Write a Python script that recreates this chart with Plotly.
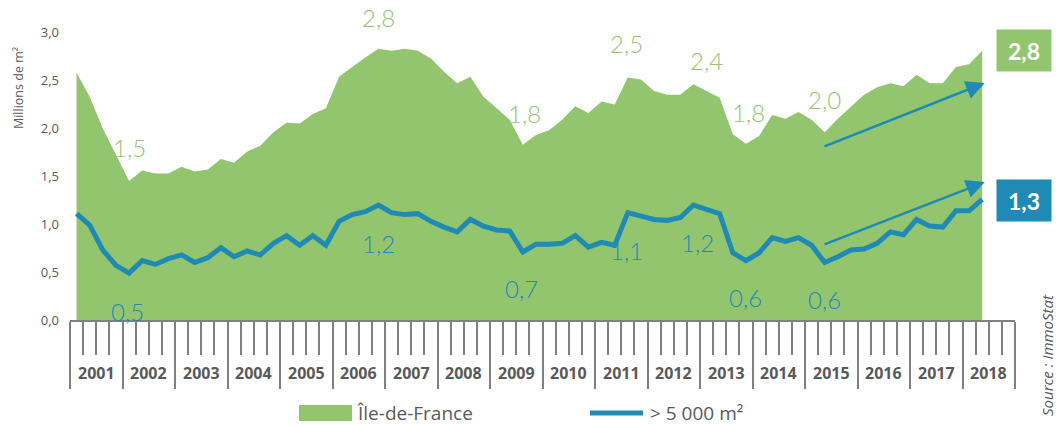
import plotly.graph_objects as go

# ---------------- data ----------------
years = [str(y) for y in range(2001, 2019)]
quarters_per_year = 4

# Ile-de-France take-up (millions m2), quarterly rolling, 2001 Q1 -> 2018 Q2
idf = [2.58, 2.33, 2.00, 1.72, 1.45, 1.56, 1.53, 1.53, 1.60, 1.55, 1.57, 1.68,
       1.64, 1.76, 1.82, 1.96, 2.06, 2.05, 2.15, 2.21, 2.54, 2.64, 2.74, 2.83,
       2.81, 2.83, 2.81, 2.73, 2.59, 2.47, 2.54, 2.33, 2.21, 2.09, 1.83, 1.93,
       1.98, 2.09, 2.23, 2.16, 2.28, 2.25, 2.53, 2.51, 2.39, 2.35, 2.35, 2.46,
       2.39, 2.32, 1.94, 1.84, 1.92, 2.14, 2.10, 2.17, 2.09, 1.96, 2.10, 2.23,
       2.35, 2.43, 2.47, 2.44, 2.56, 2.47, 2.47, 2.64, 2.67, 2.81]

# > 5 000 m2 transactions
big = [1.11, 0.99, 0.73, 0.57, 0.49, 0.62, 0.58, 0.64, 0.68, 0.60, 0.65, 0.755,
       0.66, 0.72, 0.68, 0.80, 0.88, 0.78, 0.88, 0.78, 1.03, 1.10, 1.13, 1.20,
       1.12, 1.10, 1.11, 1.03, 0.97, 0.92, 1.05, 0.98, 0.94, 0.93, 0.71, 0.79,
       0.79, 0.80, 0.88, 0.76, 0.81, 0.78, 1.12, 1.09, 1.05, 1.04, 1.07, 1.20,
       1.16, 1.11, 0.70, 0.62, 0.70, 0.86, 0.82, 0.86, 0.78, 0.60, 0.66, 0.73,
       0.74, 0.80, 0.92, 0.89, 1.05, 0.98, 0.97, 1.14, 1.14, 1.26]

y_ticks = [0.0, 0.5, 1.0, 1.5, 2.0, 2.5, 3.0]
y_ticktext = ["0,0", "0,5", "1,0", "1,5", "2,0", "2,5", "3,0"]

# value call-outs (text, x index, y)
idf_labels = [("1,5", 4.0, 1.80), ("2,8", 23.0, 3.16), ("1,8", 34.1, 2.16),
              ("2,5", 41.9, 2.89), ("2,4", 48.0, 2.71), ("1,8", 51.2, 2.17),
              ("2,0", 57.0, 2.30)]
big_labels = [("0,5", 3.9, 0.09), ("1,2", 23.0, 0.80), ("0,7", 33.9, 0.33),
              ("1,1", 41.9, 0.73), ("1,2", 47.3, 0.81), ("0,6", 51.0, 0.23),
              ("0,6", 57.0, 0.21)]
latest_idf = "2,8"
latest_big = "1,3"
series_names = ["Île-de-France", "> 5 000 m²"]

# ---------------- style ----------------
GREEN = "#93C56F"
BLUE = "#1F8AB4"
GREY = "#595959"
AXIS_GREY = "#808080"
LABEL_FONT = "Lato"
BASE_FONT = "Open Sans"

x_idx = list(range(len(idf)))
n_slots = len(years) * quarters_per_year

fig = go.Figure()
fig.add_trace(go.Scatter(x=x_idx, y=idf, mode="lines", fill="tozeroy",
                         fillcolor=GREEN, line=dict(width=0, color=GREEN),
                         name=series_names[0], hoverinfo="skip"))
fig.add_trace(go.Scatter(x=x_idx, y=big, mode="lines",
                         line=dict(width=5, color=BLUE),
                         name=series_names[1], hoverinfo="skip"))

major = [k - 0.5 for k in range(0, n_slots + 1, quarters_per_year)]
minor = [k - 0.5 for k in range(0, n_slots + 1) if k % quarters_per_year != 0]

fig.update_xaxes(range=[-0.5, n_slots - 0.5], showgrid=False, zeroline=False,
                 showline=True, linecolor=AXIS_GREY, linewidth=2,
                 tickmode="array", tickvals=major, ticks="outside", ticklen=67,
                 tickwidth=1.5, tickcolor=AXIS_GREY, showticklabels=False,
                 minor=dict(tickmode="array", tickvals=minor, ticks="outside",
                            ticklen=33, tickwidth=1.5, tickcolor=AXIS_GREY,
                            showgrid=False))
fig.update_yaxes(range=[0, 3.34], tickmode="array", tickvals=y_ticks,
                 ticktext=y_ticktext, showgrid=False, zeroline=False,
                 showline=False, ticks="", ticklabelstandoff=10,
                 tickfont=dict(family=BASE_FONT, size=13, color=GREY))

C = dict(xanchor="center", yanchor="middle")
ann = []
# year labels
for i, yr in enumerate(years):
    ann.append(dict(x=i * quarters_per_year + 1.5, y=-0.1656, xref="x", yref="paper",
                    text=f"<b>{yr}</b>", showarrow=False, **C,
                    font=dict(family=BASE_FONT, size=16, color=GREY)))
for t, x, y in idf_labels:
    ann.append(dict(x=x, y=y, xref="x", yref="y", text=t, showarrow=False, **C,
                    font=dict(family=LABEL_FONT, size=24, color=GREEN, weight=300)))
for t, x, y in big_labels:
    ann.append(dict(x=x, y=y, xref="x", yref="y", text=t, showarrow=False, **C,
                    font=dict(family=LABEL_FONT, size=24, color=BLUE, weight=300)))
# trend arrows
ann.append(dict(x=69.2, y=2.474, ax=56.87, ay=1.806, xref="x", yref="y",
                axref="x", ayref="y", text="", showarrow=True, arrowhead=2,
                arrowsize=1.5, arrowwidth=2.5, arrowcolor=BLUE, standoff=0))
ann.append(dict(x=69.2, y=1.44, ax=56.87, ay=0.783, xref="x", yref="y",
                axref="x", ayref="y", text="", showarrow=True, arrowhead=2,
                arrowsize=1.5, arrowwidth=2.5, arrowcolor=BLUE, standoff=0))
# latest value boxes
ann.append(dict(x=1.0095, y=0.842, xref="paper", yref="paper", **C,
                text=f"<b>{latest_idf}</b>", showarrow=False, bgcolor=GREEN,
                width=54, height=41, borderpad=0,
                font=dict(family=LABEL_FONT, size=23, color="white")))
ann.append(dict(x=1.0095, y=0.3734, xref="paper", yref="paper", **C,
                text=f"<b>{latest_big}</b>", showarrow=False, bgcolor=BLUE,
                width=54, height=41, borderpad=0,
                font=dict(family=LABEL_FONT, size=23, color="white")))
# axis title
ann.append(dict(x=-0.055, y=0.725, xref="paper", yref="paper", **C,
                text="Millions de m²", textangle=-90, showarrow=False,
                font=dict(family=BASE_FONT, size=12.5, color=GREY)))
# source
ann.append(dict(x=1.034, y=-0.109, xref="paper", yref="paper", **C,
                text="Source : ImmoStat", textangle=-90, showarrow=False,
                font=dict(family=BASE_FONT, size=15, color=GREY, style="italic")))
# custom legend text
ann.append(dict(x=0.3016, y=-0.2906, xref="paper", yref="paper", xanchor="left",
                yanchor="middle", text=series_names[0], showarrow=False,
                font=dict(family=BASE_FONT, size=19, color=GREY)))
ann.append(dict(x=0.6116, y=-0.2906, xref="paper", yref="paper", xanchor="left",
                yanchor="middle", text=series_names[1], showarrow=False,
                font=dict(family=BASE_FONT, size=19, color=GREY)))

shapes = [
    dict(type="rect", xref="paper", yref="paper", x0=0.2423, x1=0.2984,
         y0=-0.3156, y1=-0.2656, fillcolor=GREEN, line=dict(width=0)),
    dict(type="line", xref="paper", yref="paper", x0=0.5503, x1=0.6063,
         y0=-0.2906, y1=-0.2906, line=dict(color=BLUE, width=5)),
]

fig.update_layout(width=1058, height=426, margin=dict(l=70, r=43, t=0, b=106),
                  paper_bgcolor="white", plot_bgcolor="white", showlegend=False,
                  annotations=ann, shapes=shapes,
                  font=dict(family=BASE_FONT, color=GREY))

fig.write_html("out.html", config={"displayModeBar": False},
               post_script="document.body.style.margin='0';document.body.style.overflow='hidden';")
